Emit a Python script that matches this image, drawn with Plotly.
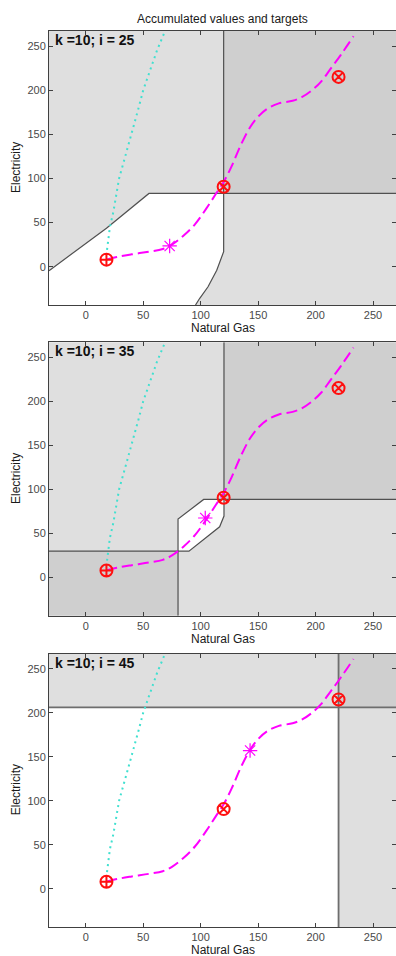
import plotly.graph_objects as go

# ---------------- data ----------------
X_RANGE = [-32, 270]
Y_RANGE = [-43.4, 267]
TICKS = [0, 50, 100, 150, 200, 250]

panel_labels = ["k =10; i = 25", "k =10; i = 35", "k =10; i = 45"]

# accumulated path (magenta dashed)
path_x = [18, 27, 40, 55, 67, 75, 85, 95, 105, 113, 120, 127, 135, 143, 150, 158, 168, 180, 188, 197, 205, 213, 222, 233]
path_y = [8, 11, 14, 17, 20, 25, 35, 48, 66, 82, 96, 114, 138, 158, 170, 179, 185, 188, 192, 200, 210, 224, 240, 261]

# cyan dotted line
cyan_x = [18.5, 21, 24, 29, 35, 41, 46, 50, 56, 62, 69]
cyan_y = [19, 45, 62, 100, 128, 155, 180, 200, 222, 245, 267]

# targets (red)
target_x = [18, 120, 220]
target_y = [8, 90.5, 215]
target_symbols = ["circle-cross-open", "circle-x-open", "circle-x-open"]

# current point per panel (magenta asterisk)
current_x = [73, 104, 143]
current_y = [23.5, 67.5, 157]

# region polygons per panel
white_regions = [
    ([-32, -15.4, 18, 55, 120, 120, 114, 106.4, 99.2, 95.5, -32],
     [-4.5, 11.3, 43.5, 83, 83, 17, -4, -22.7, -35.8, -43.4, -43.4]),
    ([80.3, 102.6, 120.3, 120.3, 116.5, 89.8, 80.3],
     [66.3, 88.6, 88.6, 69.7, 57.5, 29.9, 29.9]),
    ([-32, 220, 220, -32],
     [-43.4, -43.4, 206, 206]),
]
dark_regions = [
    [([120, 270, 270, 120], [83, 83, 267, 267])],
    [([120, 270, 270, 120], [88.6, 88.6, 267, 267]),
     ([-32, 80.3, 80.3, -32], [-43.4, -43.4, 29.9, 29.9])],
    [([220, 270, 270, 220], [206, 206, 267, 267])],
]
boundary_lines = [
    [([120, 120, 114, 106.4, 99.2, 95.5], [267, 17, -4, -22.7, -35.8, -43.4]),
     ([-32, -15.4, 18, 55, 270], [-4.5, 11.3, 43.5, 83, 83])],
    [([-32, 89.8, 116.5, 120.3, 120.3], [29.9, 29.9, 57.5, 69.7, 267]),
     ([80.3, 80.3, 102.6, 270], [-43.4, 66.3, 88.6, 88.6])],
    [([220, 220], [-43.4, 267]),
     ([-32, 270], [206, 206])],
]
line_styles = [("#505050", 1.2), ("#505050", 1.2), ("#6e6e6e", 1.8)]

LIGHT = "#dfdfdf"
DARK = "#cfcfcf"
FONT = "Liberation Sans, Arial, sans-serif"

# ---------------- figure ----------------
W, H = 396, 956
x_dom = [49 / W, 1.0]
panel_px = [(31, 305), (342.3, 615.7), (653.7, 927)]

fig = go.Figure()
annotations = []
layout_axes = {}

for p in range(3):
    xa = "x" if p == 0 else f"x{p+1}"
    ya = "y" if p == 0 else f"y{p+1}"
    xname = "xaxis" if p == 0 else f"xaxis{p+1}"
    yname = "yaxis" if p == 0 else f"yaxis{p+1}"

    for rx, ry in dark_regions[p]:
        fig.add_trace(go.Scatter(x=rx + [rx[0]], y=ry + [ry[0]], xaxis=xa, yaxis=ya,
                                 mode="lines", fill="toself", fillcolor=DARK,
                                 line=dict(width=0), hoverinfo="skip", showlegend=False))
    wx, wy = white_regions[p]
    fig.add_trace(go.Scatter(x=wx + [wx[0]], y=wy + [wy[0]], xaxis=xa, yaxis=ya,
                             mode="lines", fill="toself", fillcolor="white",
                             line=dict(width=0), hoverinfo="skip", showlegend=False))
    lc, lw = line_styles[p]
    for bx, by in boundary_lines[p]:
        fig.add_trace(go.Scatter(x=bx, y=by, xaxis=xa, yaxis=ya, mode="lines",
                                 line=dict(color=lc, width=lw), hoverinfo="skip",
                                 showlegend=False))
    fig.add_trace(go.Scatter(x=cyan_x, y=cyan_y, xaxis=xa, yaxis=ya, mode="lines",
                             line=dict(color="#40e0d0", width=2, dash="2px,4px"),
                             showlegend=False))
    fig.add_trace(go.Scatter(x=path_x, y=path_y, xaxis=xa, yaxis=ya, mode="lines",
                             line=dict(color="#ff00ff", width=2, dash="11px,5px", shape="spline"),
                             showlegend=False))
    fig.add_trace(go.Scatter(x=[current_x[p]], y=[current_y[p]], xaxis=xa, yaxis=ya,
                             mode="markers",
                             marker=dict(symbol="asterisk-open", size=12, color="#ff00ff",
                                         line=dict(color="#ff00ff", width=1.2)),
                             showlegend=False))
    fig.add_trace(go.Scatter(x=target_x, y=target_y, xaxis=xa, yaxis=ya, mode="markers",
                             marker=dict(symbol=target_symbols, size=12, color="#ff1010",
                                         line=dict(color="#ff1010", width=2)),
                             showlegend=False))

    top, bot = panel_px[p]
    ydom = [1 - bot / H, 1 - top / H]
    common = dict(showgrid=False, zeroline=False, showline=True, linecolor="#404040",
                  linewidth=1, mirror="ticks", ticks="inside", ticklen=4,
                  tickcolor="#404040", tickfont=dict(family=FONT, size=11, color="#4a4a4a"))
    layout_axes[xname] = dict(domain=x_dom, range=X_RANGE, tickvals=TICKS,
                              anchor=ya, **common)
    layout_axes[yname] = dict(domain=ydom, range=Y_RANGE, tickvals=TICKS,
                              anchor=xa, **common)

    annotations.append(dict(text=f"<b>{panel_labels[p]}</b>", xref=f"{xa} domain",
                            yref=f"{ya} domain", x=0.012, y=1.0, xanchor="left",
                            yanchor="top", showarrow=False, yshift=1,
                            font=dict(family=FONT, size=14, color="#111111")))
    annotations.append(dict(text="Natural Gas", xref=f"{xa} domain", yref=f"{ya} domain",
                            x=0.5, y=0, yshift=-23, xanchor="center", yanchor="middle",
                            showarrow=False, font=dict(family=FONT, size=12, color="#1a1a1a")))
    annotations.append(dict(text="Electricity", xref="paper", yref=f"{ya} domain",
                            x=16 / W, y=0.5, textangle=-90, xanchor="center",
                            yanchor="middle", showarrow=False,
                            font=dict(family=FONT, size=12, color="#1a1a1a")))

annotations.append(dict(text="Accumulated values and targets", xref="paper", yref="paper",
                        x=(49 + 396) / 2 / W, y=1 - 19 / H, xanchor="center",
                        yanchor="middle", showarrow=False,
                        font=dict(family=FONT, size=12, color="#1a1a1a")))

fig.update_layout(width=W, height=H, margin=dict(l=0, r=0, t=0, b=0),
                  paper_bgcolor="white", plot_bgcolor=LIGHT,
                  annotations=annotations, **layout_axes)

fig.write_html("out.html", config={"displayModeBar": False},
               post_script="document.body.style.margin='0px';document.body.style.overflow='hidden';")
